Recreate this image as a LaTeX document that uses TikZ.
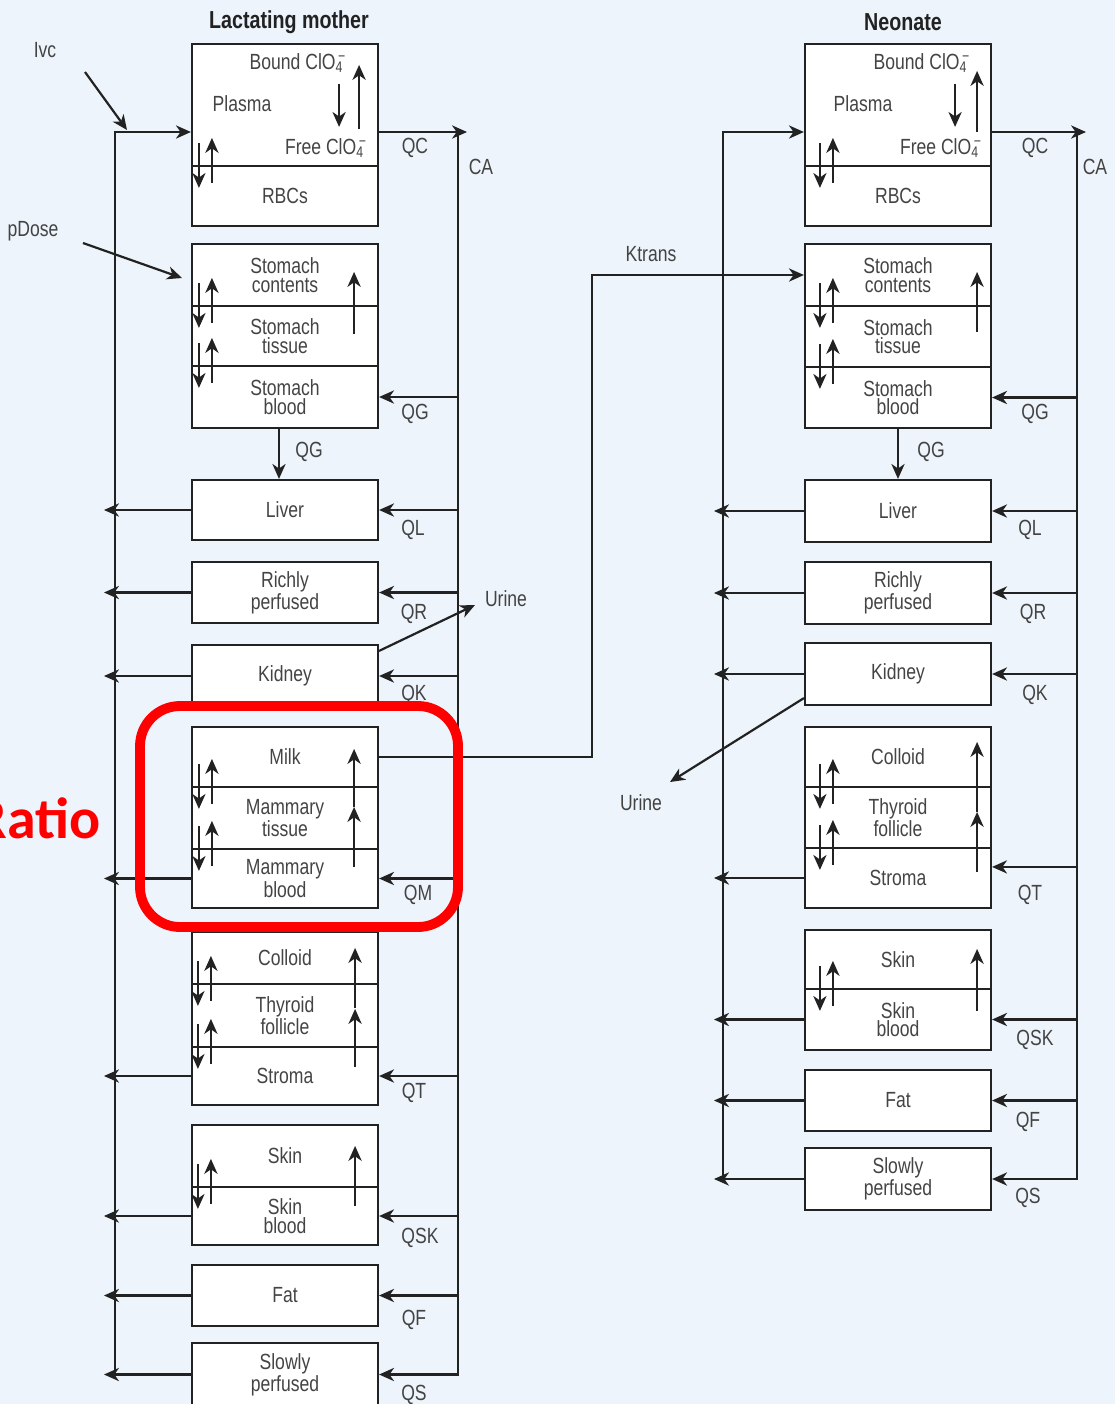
\documentclass[tikz,border=0pt]{standalone}
\usepackage{fontspec}
\setmainfont{Liberation Sans}[FakeStretch=0.8]
\newfontfamily\ratiofont{Carlito}
\usetikzlibrary{arrows.meta,calc}

\definecolor{bgblue}{HTML}{EDF4FB}
\definecolor{ink}{HTML}{222222}
\definecolor{boxtext}{HTML}{444444}
\definecolor{markred}{HTML}{FF0000}

\tikzset{
  comp/.style={draw=ink, line width=1.25pt, fill=white, minimum width=3.72cm,
    inner sep=0pt, text=boxtext, align=center, font=\fontsize{12.5}{10.5}\selectfont},
  flow/.style={draw=ink, line width=1.25pt, -{Stealth[length=8.5pt,width=7.5pt,inset=2.6pt]}},
  flowlbl/.style={text=ink!85, font=\fontsize{12.5}{12}\selectfont},
  boxlbl/.style={text=boxtext, font=\fontsize{12.5}{12}\selectfont},
  title/.style={text=ink, font=\bfseries\fontsize{14}{14}\selectfont},
}

% exchange arrows across the top edge of a compartment
\newcommand{\xchg}[2]{%
  \draw[flow] ($(#1.north west)+(#2,-22)$) -- ++(0,45);
  \draw[flow] ($(#1.north west)+(#2+13,18)$) -- ++(0,-45);
}
\newcommand{\clo}{ClO\rlap{\textsubscript{4}}\textsuperscript{\,−}}

\begin{document}
\begin{tikzpicture}[x=0.02cm,y=-0.02cm]
\fill[bgblue] (0,0) rectangle (1115,1404);
\useasboundingbox (0,0) rectangle (1115,1404);

% ---- lactating mother
\node[title] (Mtitle) at (289,22) {Lactating mother};
\node[comp, minimum height=2.44cm] (Mpl) at (285,105) {};
\node[comp, minimum height=1.2cm] (Mrbc) at (285,196) {RBCs};
\node[boxlbl] (Mbound) at (298,63) {Bound \clo};
\node[boxlbl] (Mplasma) at (242,104) {Plasma};
\node[boxlbl] (Mfree) at (326,148) {Free \clo};
\node[comp, minimum height=1.24cm] (MSc) at (285,275) {Stomach\\contents};
\node[comp, minimum height=1.2cm] (MSt) at (285,336) {Stomach\\tissue};
\node[comp, minimum height=1.24cm] (MSb) at (285,397) {Stomach\\blood};
\node[comp, minimum height=1.2cm] (Mliv) at (285,510) {Liver};
\node[comp, minimum height=1.22cm] (Mrich) at (285,592.5) {Richly\\perfused};
\node[comp, minimum height=1.24cm] (Mkid) at (285,676) {Kidney};
\node[comp, minimum height=1.2cm] (Mmilk) at (285,757) {Milk};
\node[comp, minimum height=1.24cm] (Mmt) at (285,818) {Mammary\\tissue};
\node[comp, minimum height=1.18cm] (Mmb) at (285,878.5) {Mammary\\blood};
\node[comp, minimum height=1.04cm] (Mcol) at (285,958) {Colloid};
\node[comp, minimum height=1.26cm] (Mthy) at (285,1015.5) {Thyroid\\follicle};
\node[comp, minimum height=1.16cm] (Mstr) at (285,1076) {Stroma};
\node[comp, minimum height=1.24cm] (Mskin) at (285,1156) {Skin};
\node[comp, minimum height=1.16cm] (Mskb) at (285,1216) {Skin\\blood};
\node[comp, minimum height=1.22cm] (Mfat) at (285,1295.5) {Fat};
\node[comp, minimum height=1.26cm] (Mslow) at (285,1374.5) {Slowly\\perfused};

\coordinate (MV) at (115,132);
\coordinate (MVo) at (104,132);
\coordinate (MCA) at (458,132);
\coordinate (MQC) at (467,132);

\draw[flow] (MV |- Mslow) -- (MV) -- (Mpl.west |- MV);
\draw[flow] (Mpl.east |- MV) -- (MQC);
\draw[flow] (MCA) -- (MCA |- Mslow) -- (Mslow.east);
\foreach \n in {MSb,Mliv,Mrich,Mkid,Mmb,Mstr,Mskb,Mfat}
  \draw[flow] (MCA |- \n.east) -- (\n.east);
\foreach \n in {Mliv,Mrich,Mkid,Mmb,Mstr,Mskb,Mfat,Mslow}
  \draw[flow] (\n.west) -- (MVo |- \n.west);
\draw[flow] ($(MSb.south)+(-6,0)$) -- ($(Mliv.north)+(-6,0)$);

\xchg{Mrbc}{8}
\xchg{MSt}{8}
\xchg{MSb}{8}
\xchg{Mmt}{8}
\xchg{Mmb}{8}
\xchg{Mthy}{7}
\xchg{Mstr}{7}
\xchg{Mskb}{7}
\draw[flow] ($(Mpl.north east)+(-40,41)$) -- ++(0,43);
\draw[flow] ($(Mpl.north east)+(-20,86)$) -- ++(0,-64);
\draw[flow] ($(MSt.north east)+(-25,29)$) -- ++(0,-62);
\draw[flow] ($(Mmb.north east)+(-25,19)$) -- ++(0,-60);
\draw[flow] ($(Mmt.north east)+(-25,21)$) -- ++(0,-58);
\draw[flow] ($(Mstr.north east)+(-24,21)$) -- ++(0,-58);
\draw[flow] ($(Mthy.north east)+(-24,25)$) -- ++(0,-60);
\draw[flow] ($(Mskb.north east)+(-24,20)$) -- ++(0,-60);

\node[flowlbl] (Mivc) at (45,50) {Ivc};
\coordinate (MivcS) at (85,72);
\coordinate (MivcT) at (127,130);
\draw[flow] (MivcS) -- (MivcT);
\node[flowlbl] (Mdose) at (33,231) {pDose};
\coordinate (MdoseS) at (83,243);
\coordinate (MdoseT) at (182,278);
\draw[flow] (MdoseS) -- (MdoseT);
\coordinate (MurT) at (475,605);
\draw[flow] ($(Mkid.north east)+(0,7)$) -- (MurT);
\node[flowlbl] (Murine) at (506,599) {Urine};

\node[flowlbl] at (415,148) {QC};
\node[flowlbl] at (481,167) {CA};
\node[flowlbl] at (415,414) {QG};
\node[flowlbl] at (309,452) {QG};
\node[flowlbl] at (413,530) {QL};
\node[flowlbl] at (414,614) {QR};
\node[flowlbl] at (414,695) {QK};
\node[flowlbl] at (418,895) {QM};
\node[flowlbl] at (414,1093) {QT};
\node[flowlbl] at (420,1238) {QSK};
\node[flowlbl] at (414,1320) {QF};
\node[flowlbl] at (414,1395) {QS};

% ---- neonate
\node[title] (Ntitle) at (903,22) {Neonate};
\node[comp, minimum height=2.44cm] (Npl) at (898,105) {};
\node[comp, minimum height=1.2cm] (Nrbc) at (898,196) {RBCs};
\node[boxlbl] (Nbound) at (922,63) {Bound \clo};
\node[boxlbl] (Nplasma) at (863,104) {Plasma};
\node[boxlbl] (Nfree) at (941,148) {Free \clo};
\node[comp, minimum height=1.24cm] (NSc) at (898,275) {Stomach\\contents};
\node[comp, minimum height=1.22cm] (NSt) at (898,336.5) {Stomach\\tissue};
\node[comp, minimum height=1.22cm] (NSb) at (898,397.5) {Stomach\\blood};
\node[comp, minimum height=1.24cm] (Nliv) at (898,511) {Liver};
\node[comp, minimum height=1.24cm] (Nrich) at (898,593) {Richly\\perfused};
\node[comp, minimum height=1.24cm] (Nkid) at (898,674) {Kidney};
\node[comp, minimum height=1.2cm] (Ncol) at (898,757) {Colloid};
\node[comp, minimum height=1.22cm] (Nthy) at (898,817.5) {Thyroid\\follicle};
\node[comp, minimum height=1.2cm] (Nstr) at (898,878) {Stroma};
\node[comp, minimum height=1.18cm] (Nskin) at (898,959.5) {Skin};
\node[comp, minimum height=1.22cm] (Nskb) at (898,1019.5) {Skin\\blood};
\node[comp, minimum height=1.22cm] (Nfat) at (898,1100.5) {Fat};
\node[comp, minimum height=1.24cm] (Nslow) at (898,1179) {Slowly\\perfused};

\coordinate (NV) at (723,132);
\coordinate (NVo) at (714,132);
\coordinate (NCA) at (1077,132);
\coordinate (NQC) at (1086,132);

\draw[flow] (NV |- Nslow) -- (NV) -- (Npl.west |- NV);
\draw[flow] (Npl.east |- NV) -- (NQC);
\draw[flow] (NCA) -- (NCA |- Nslow) -- (Nslow.east);
\foreach \n in {NSb,Nliv,Nrich,Nkid,Nskb,Nfat}
  \draw[flow] (NCA |- \n.east) -- (\n.east);
\draw[flow] (NCA |- Nstr.north) ++(0,20) -- ($(Nstr.north east)+(0,20)$);
\foreach \n in {Nliv,Nrich,Nkid,Nstr,Nskb,Nfat,Nslow}
  \draw[flow] (\n.west) -- (NVo |- \n.west);
\draw[flow] (NSb.south) -- (Nliv.north);

\xchg{Nrbc}{16}
\xchg{NSt}{16}
\xchg{NSb}{16}
\xchg{Nthy}{16}
\xchg{Nstr}{16}
\xchg{Nskb}{16}
\draw[flow] ($(Npl.north east)+(-37,41)$) -- ++(0,43);
\draw[flow] ($(Npl.north east)+(-15,89)$) -- ++(0,-61);
\draw[flow] ($(NSt.north east)+(-15,27)$) -- ++(0,-60);
\draw[flow] ($(Nstr.north east)+(-15,25)$) -- ++(0,-60);
\draw[flow] ($(Nthy.north east)+(-15,26)$) -- ++(0,-70);
\draw[flow] ($(Nskb.north east)+(-15,23)$) -- ++(0,-62);

\coordinate (NurT) at (670,782);
\draw[flow] ($(Nkid.south west)+(0,-8)$) -- (NurT);
\node[flowlbl] (Nurine) at (641,803) {Urine};

\node[flowlbl] at (1035,148) {QC};
\node[flowlbl] at (1095,167) {CA};
\node[flowlbl] at (1035,414) {QG};
\node[flowlbl] at (931,452) {QG};
\node[flowlbl] at (1030,530) {QL};
\node[flowlbl] at (1033,614) {QR};
\node[flowlbl] at (1035,695) {QK};
\node[flowlbl] at (1030,895) {QT};
\node[flowlbl] at (1035,1040) {QSK};
\node[flowlbl] at (1028,1122) {QF};
\node[flowlbl] at (1028,1198) {QS};

% ---- milk transfer
\coordinate (Kt) at (592,761);
\draw[flow] (Mmilk.east) -- (Kt |- Mmilk.east) -- (Kt |- NSc.west) -- (NSc.west);
\node[flowlbl] (Ktrans) at (651,254) {Ktrans};

% ---- highlight
\draw[markred, line width=5.6pt, rounded corners=0.8cm] (140,706) rectangle (458,927);
\node[anchor=base east, text=markred, font=\ratiofont\bfseries\fontsize{33}{33}\selectfont] (ratio) at (107,838) {Ratio};
\end{tikzpicture}
\end{document}
